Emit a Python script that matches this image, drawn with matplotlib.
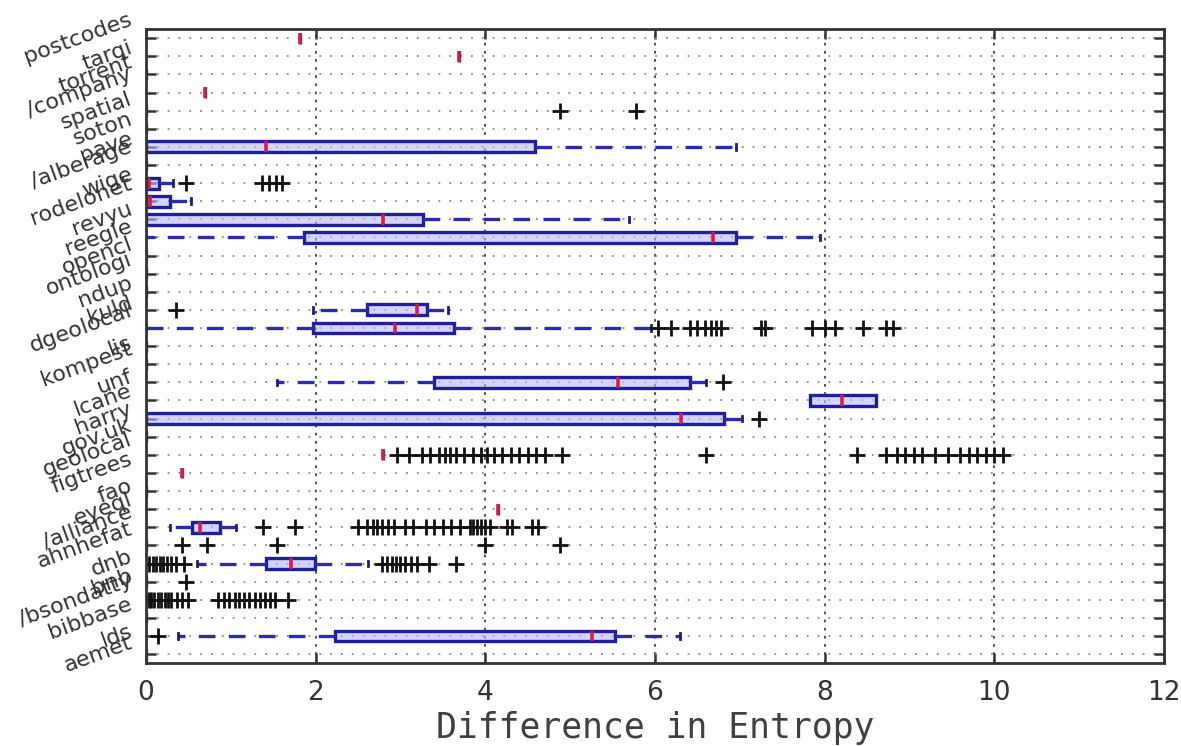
import numpy as np
import matplotlib
matplotlib.use("Agg")
import matplotlib.pyplot as plt

# Dataset names, listed top to bottom
datasets = [
    "postcodes", "tarqi", "torrent", "/company", "spatial", "soton", "pave",
    "/alberage", "wige", "rodelonet", "revyu", "reegle", "opencl", "ontologi",
    "ndup", "kuld", "dgeolocal", "lis", "kompest", "unf", "lcane", "harry",
    "gov.uk", "geolocal", "figtrees", "fao", "eyeql", "/alliance", "ahnhefat",
    "dnb", "bnb", "/bsondatty", "bibbase", "lds", "aemet",
]

# Box statistics per dataset (difference in entropy)
whisker_low = [1.82, 3.69, 0, 0.69, 0, 0, 0, 0, 0, 0, 0, 0, 0, 0, 0, 1.97, 0,
               0, 0, 1.55, 7.83, 0, 0, 2.79, 0.43, 0, 4.15, 0.28, 0, 0.60, 0,
               0, 0, 0.38, 0]
q1 = [1.82, 3.69, 0, 0.69, 0, 0, 0, 0, 0, 0, 0, 1.86, 0, 0, 0, 2.60, 1.97,
      0, 0, 3.40, 7.83, 0, 0, 2.79, 0.43, 0, 4.15, 0.54, 0, 1.42, 0,
      0, 0, 2.23, 0]
median = [1.82, 3.69, 0, 0.69, 0, 0, 1.41, 0, 0.03, 0.05, 2.79, 6.68, 0, 0,
          0, 3.20, 2.93, 0, 0, 5.56, 8.20, 6.31, 0, 2.79, 0.43, 0, 4.15,
          0.64, 0, 1.71, 0, 0, 0, 5.26, 0]
q3 = [1.82, 3.69, 0, 0.69, 0, 0, 4.58, 0, 0.15, 0.28, 3.26, 6.96, 0, 0, 0,
      3.31, 3.63, 0, 0, 6.41, 8.61, 6.81, 0, 2.79, 0.43, 0, 4.15, 0.87, 0,
      1.99, 0, 0, 0, 5.53, 0]
whisker_high = [1.82, 3.69, 0, 0.69, 0, 0, 6.96, 0, 0.32, 0.53, 5.69, 7.95,
                0, 0, 0, 3.56, 5.95, 0, 0, 6.60, 8.61, 7.02, 0, 2.79, 0.43,
                0, 4.15, 1.06, 0, 2.62, 0, 0, 0, 6.29, 0]
outliers = [
    [], [], [], [], [4.88, 5.78], [], [], [],
    [0.47, 1.37, 1.45, 1.53, 1.60],
    [], [], [], [], [], [],
    [0.35],
    [6.04, 6.19, 6.41, 6.50, 6.59, 6.66, 6.72, 6.78, 7.25, 7.30, 7.85, 8.00,
     8.12, 8.45, 8.72, 8.81],
    [], [],
    [6.80],
    [],
    [7.23],
    [],
    [2.96, 3.10, 3.25, 3.35, 3.45, 3.52, 3.58, 3.65, 3.75, 3.85, 3.95, 4.02,
     4.10, 4.20, 4.30, 4.40, 4.50, 4.60, 4.70, 4.90, 6.60, 8.38, 8.72, 8.85,
     8.95, 9.05, 9.15, 9.30, 9.45, 9.60, 9.70, 9.80, 9.90, 10.00, 10.10],
    [], [], [],
    [1.38, 1.76, 2.50, 2.60, 2.68, 2.72, 2.78, 2.85, 2.92, 3.05, 3.15, 3.30,
     3.40, 3.50, 3.60, 3.70, 3.82, 3.86, 3.90, 3.95, 4.00, 4.05, 4.25, 4.32,
     4.55, 4.62],
    [0.42, 0.72, 1.55, 4.00, 4.88],
    [0.03, 0.08, 0.12, 0.17, 0.20, 0.25, 0.30, 0.35, 0.45, 2.78, 2.84, 2.90,
     2.95, 3.00, 3.05, 3.12, 3.20, 3.34, 3.66],
    [0.47],
    [0.03, 0.06, 0.10, 0.14, 0.18, 0.22, 0.26, 0.30, 0.36, 0.42, 0.50, 0.85,
     0.92, 0.98, 1.05, 1.10, 1.16, 1.22, 1.28, 1.34, 1.40, 1.46, 1.52, 1.68],
    [],
    [0.14],
    [],
]

x_ticks = [0, 2, 4, 6, 8, 10, 12]

stats = []
for i in range(len(datasets)):
    stats.append(dict(label=datasets[i], whislo=whisker_low[i], q1=q1[i],
                      med=median[i], q3=q3[i], whishi=whisker_high[i],
                      fliers=np.array(outliers[i])))

positions = np.arange(1, len(datasets) + 1)

fig = plt.figure(figsize=(11.81, 7.46), dpi=100)
ax = fig.add_axes([0.1236, 0.111, 0.8620, 0.850])

ax.set_axisbelow(True)
ax.grid(True, axis="y", linestyle=(0, (1, 5)), color="#8a8a8a", linewidth=1.3)
ax.grid(True, axis="x", linestyle=(0, (1.5, 3)), color="#444444", linewidth=1.3)

ax.bxp(stats, positions=positions, widths=0.6, orientation="horizontal",
       patch_artist=True, capwidths=0.3,
       boxprops=dict(facecolor=(0.72, 0.72, 0.98, 0.6), edgecolor="#1f1f9a",
                     linewidth=2.4),
       whiskerprops=dict(color="#2c2caa", linestyle=(0, (5, 4)), linewidth=2.4),
       capprops=dict(color="#1c1c80", linewidth=2),
       medianprops=dict(color="#d81c4a", linewidth=2.6),
       flierprops=dict(marker="+", markeredgecolor="#111111", markersize=11,
                       markeredgewidth=2, linestyle="none"))

ax.set_xlim(0, 12)
ax.set_ylim(len(datasets) + 0.5, 0.5)
ax.set_xticks(x_ticks)
ax.set_xticklabels([str(t) for t in x_ticks])
ax.set_yticks(positions)
ax.set_yticklabels(datasets, rotation=20, ha="right", va="center",
                   fontsize=16, color="#333333")

ax.tick_params(axis="both", direction="in", length=7, width=1.8,
               top=True, right=True, colors="#333333")
ax.tick_params(axis="x", labelsize=19, labelcolor="#333333", pad=12)
ax.tick_params(axis="y", pad=8)

for s in ax.spines.values():
    s.set_linewidth(2)
    s.set_color("#333333")
    s.set_zorder(5)

ax.set_xlabel("Difference in Entropy", fontsize=25, family="DejaVu Sans Mono",
              color="#404040", labelpad=4)

fig.savefig("out.png", dpi=100)
